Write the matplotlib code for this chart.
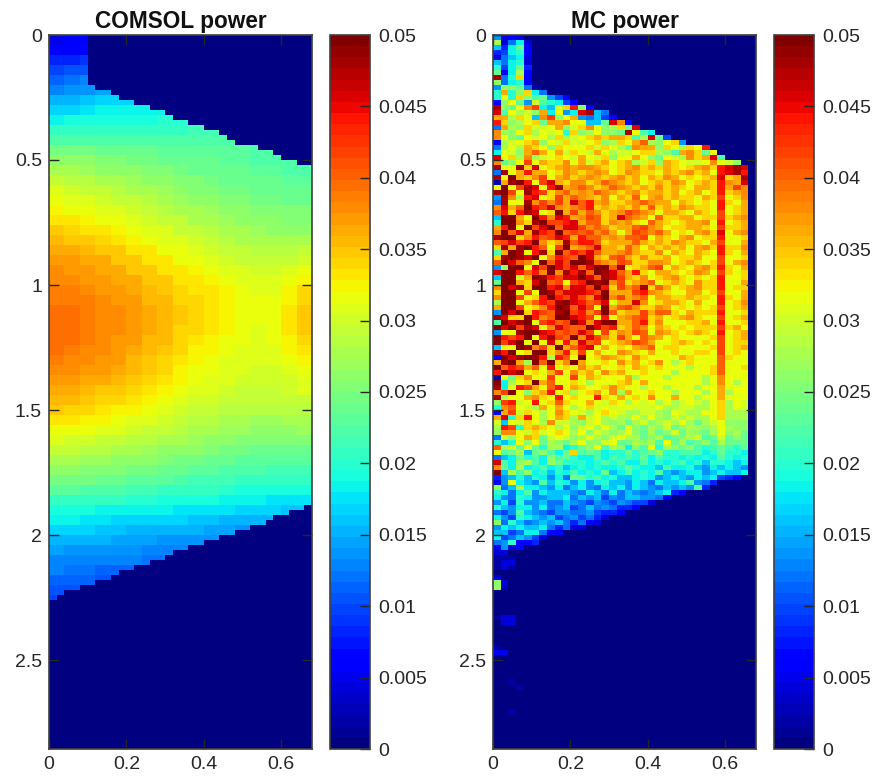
import numpy as np
import matplotlib
matplotlib.use("Agg")
import matplotlib.pyplot as plt

plt.rcParams['font.family'] = ['Liberation Sans', 'DejaVu Sans']

# COMSOL power, units 1e-4, cells 0.04 x 0.04
comsol_rows = [
    [50, 55, 60],
    [60, 62, 68],
    [85, 85, 90],
    [100, 105, 105],
    [115, 120, 125, 125],
    [130, 135, 140, 145, 150, 155],
    [150, 155, 160, 165, 165, 170, 170],
    [170, 170, 175, 180, 180, 180, 185, 185],
    [185, 190, 190, 195, 195, 195, 195, 200, 200, 200],
    [205, 210, 210, 210, 210, 210, 210, 210, 210, 215, 215],
    [225, 225, 225, 225, 225, 225, 225, 225, 225, 225, 225, 225],
    [245, 245, 245, 240, 240, 235, 235, 230, 230, 230, 230, 230, 230, 225, 225],
    [260, 260, 260, 255, 250, 245, 245, 240, 240, 235, 235, 230, 230, 225, 225, 225, 225],
    [275, 275, 270, 265, 265, 260, 255, 250, 245, 240, 240, 235, 235, 230, 230, 225, 225],
    [290, 285, 285, 280, 275, 270, 265, 260, 255, 250, 245, 240, 240, 235, 235, 230, 230],
    [305, 300, 295, 290, 285, 280, 275, 270, 260, 255, 250, 245, 245, 240, 240, 235, 235],
    [315, 310, 305, 300, 295, 290, 285, 280, 270, 265, 260, 255, 250, 245, 245, 240, 240],
    [325, 320, 315, 310, 305, 300, 295, 285, 280, 275, 270, 265, 260, 255, 250, 250, 250],
    [335, 330, 325, 320, 315, 310, 300, 295, 290, 280, 275, 270, 265, 265, 260, 255, 255],
    [345, 340, 335, 330, 325, 320, 310, 305, 295, 290, 285, 280, 275, 270, 265, 265, 265],
    [355, 350, 345, 340, 335, 325, 320, 310, 305, 300, 290, 285, 280, 280, 275, 275, 275],
    [365, 360, 355, 350, 345, 335, 330, 320, 315, 305, 300, 295, 290, 285, 285, 285, 290],
    [370, 370, 365, 360, 350, 345, 335, 330, 320, 315, 310, 300, 295, 295, 290, 295, 300],
    [378, 375, 370, 365, 360, 350, 345, 335, 330, 325, 315, 310, 305, 300, 300, 305, 315],
    [382, 380, 375, 370, 365, 360, 350, 345, 335, 330, 325, 315, 310, 308, 308, 315, 328],
    [385, 385, 380, 375, 370, 365, 355, 350, 340, 335, 330, 322, 315, 312, 312, 322, 338],
    [390, 390, 385, 380, 375, 368, 358, 352, 342, 338, 332, 325, 318, 315, 315, 328, 342],
    [395, 392, 388, 382, 378, 368, 362, 352, 345, 338, 332, 325, 320, 315, 315, 330, 345],
    [395, 395, 388, 382, 378, 368, 362, 352, 345, 338, 332, 325, 318, 314, 315, 330, 350],
    [395, 395, 388, 382, 378, 368, 362, 352, 342, 338, 332, 322, 315, 312, 315, 330, 345],
    [395, 392, 388, 382, 372, 368, 358, 352, 342, 332, 328, 320, 315, 312, 314, 328, 342],
    [392, 388, 382, 378, 372, 362, 355, 348, 338, 328, 322, 318, 312, 308, 312, 322, 335],
    [388, 382, 378, 372, 368, 358, 350, 342, 332, 325, 318, 312, 308, 305, 308, 318, 328],
    [380, 378, 372, 368, 360, 352, 345, 338, 328, 320, 315, 308, 305, 302, 304, 310, 318],
    [372, 370, 365, 360, 355, 345, 340, 330, 325, 315, 310, 305, 300, 298, 298, 304, 310],
    [362, 360, 355, 350, 345, 338, 332, 325, 318, 310, 305, 300, 295, 295, 295, 300, 305],
    [352, 352, 348, 342, 338, 330, 325, 318, 310, 302, 298, 292, 290, 290, 290, 292, 296],
    [345, 342, 338, 332, 328, 322, 316, 308, 302, 296, 290, 286, 285, 282, 282, 286, 288],
    [330, 330, 328, 322, 318, 312, 308, 302, 294, 288, 282, 278, 276, 272, 272, 276, 278],
    [320, 316, 314, 310, 305, 300, 295, 290, 284, 278, 274, 268, 266, 262, 262, 264, 268],
    [306, 302, 300, 296, 294, 288, 284, 278, 274, 268, 264, 258, 256, 252, 252, 252, 256],
    [292, 290, 285, 282, 280, 275, 270, 265, 260, 258, 252, 248, 243, 242, 242, 242, 242],
    [277, 275, 270, 270, 265, 260, 258, 254, 248, 244, 242, 238, 232, 232, 232, 232, 232],
    [262, 260, 255, 255, 250, 248, 244, 240, 238, 232, 228, 224, 222, 222, 218, 218, 216],
    [245, 245, 245, 240, 238, 234, 230, 228, 224, 218, 216, 212, 210, 206, 206, 206, 204],
    [228, 228, 226, 222, 222, 216, 216, 210, 210, 205, 205, 198, 194, 194, 194, 192, 188],
    [210, 210, 210, 205, 205, 200, 198, 194, 194, 188, 188, 182, 182, 182, 176, 176, 172],
    [192, 192, 192, 187, 187, 182, 182, 182, 177, 177, 172, 172, 166, 166, 165, 160, 160],
    [180, 180, 175, 175, 170, 170, 170, 165, 165, 160, 160, 155, 155, 150, 150, 150],
    [165, 165, 165, 160, 160, 155, 155, 155, 150, 150, 145, 145, 140, 140],
    [155, 155, 150, 150, 145, 145, 145, 140, 140, 140, 135, 135],
    [145, 140, 140, 140, 135, 135, 130, 130, 130, 130],
    [130, 130, 130, 125, 125, 125, 120, 120],
    [125, 120, 120, 115, 115, 110, 110],
    [115, 110, 110, 105, 105, 105],
    [105, 105, 100, 95],
    [100, 95],
]

# where the COMSOL domain starts and stops, per 0.02 wide column
comsol_top = [0, 0, 0, 0, 0, .20, .22, .22, .24, .26, .26, .28, .28, .30, .30, .32, .34,
              .34, .36, .36, .38, .38, .40, .42, .42, .44, .44, .46, .46, .48, .50, .50, .52, .52]
comsol_bottom = [2.26, 2.24, 2.22, 2.22, 2.20, 2.20, 2.18, 2.18, 2.16, 2.14, 2.14, 2.12,
                 2.12, 2.10, 2.10, 2.08, 2.06, 2.06, 2.04, 2.04, 2.02, 2.02, 2.00, 2.00,
                 1.98, 1.98, 1.96, 1.96, 1.94, 1.92, 1.92, 1.90, 1.90, 1.88]

# MC power, one letter per 0.02 x 0.02 cell: a = 0, b = 0.002 ... z = 0.05
mc_rows = [
    "hcdc", "ocgjc", "iejmd", "efjkd", "cgijc", "igjkc", "kfjme", "mdjod", "ygkrd", "ngjkd",
    "hnnmgb",
    "ksknrjg",
    "kqkrn lmhfd",
    "dnqmh plkjf d",
    "ynmqt vjipr wnd",
    "xlqop nsjqh jxyig",
    "ssorq itvnq shgif d",
    "wrnoq rmsst qqiim xtd",
    "gsonr ppqsn prtqn ormx",
    "tonqr oqpqk rnoqn nmyql j",
    "tqnmq pqoro pqrsr ssrlo xmf",
    "dopqr snqpr ppqrn orqsu onqrh",
    "goqos rqnrq qqrpr qomts snrqo rqw",
    "jqpns usqsp rqpsq oppqr ronls trmq",
    "xqrot opqrq psqpr nqqsq nmqpo trsxl",
    "tmnqv qsrrt qsprs qrsop rnsrq ppqtq pn",
    "yqqyr xqrst sttsr qrstr srsrq rstrw xyx",
    "gyqsw ssqrt srsts qrtsr rqsrs trsqw xyw",
    "yqzsr tvqst rstsr strsq srtsq rqrsx rsy",
    "bsyzw qvxsr ttrsu tsrsq rsrts qrsrw tsx",
    "qzqvy xqwys tutrs utsrs rtrsr qssrw svt",
    "yzvqy wvrtu stsut srstr ssrsq rsqrw rst",
    "hytow xqrvs utsrt qsruq strsr rqsrv qrt",
    "gyqqy tvtvs xuwst rrstu tssqs rqrqw rqs",
    "txsuz wvxts tuwrs rsrtr ursrt srrqw qrs",
    "uwrwy xqrzs vsutr stvut sqssr qsrqv qrs",
    "izzsq zwtxw stvur sxuts qurrs sqrrv rst",
    "kzztr yzvvw xsuur tstrq usrqr sstqw qrs",
    "swzqz vxzux xvtut rssuv tsqrr ssrqv rrs",
    "tzuxs ywvzu vuvtu sqsvu tusqr qstrx qst",
    "yzzrt wuvxw swuus tsuuv qsrqs tqrrw qqr",
    "uvxvw ztrsy uwwur sssus rsrts rrqsv qqs",
    "rysyz wuqvz stuxs srusq srsrs qstrw rrt",
    "lszyq wyrzu wvxus stusr rtqsr qsrqw rqs",
    "ryzyx zqtwv uzxsr uvsrt rrsqr rsqqv qqr",
    "uzxut qzuxv zzyut svurr ttsqr srqrv qst",
    "hnzzq xvzxv xuxzz uyqrs uvqsr qstrw rqs",
    "xzzwu wtzty wyuzy xuswr qssrq rtsqv rqr",
    "izzps zywvx xzxuy xvsrt qrstr qrqrw qqr",
    "mzzsr xzuvq vwzyz tvrst uqrsr qtrrw qqs",
    "tzxyr zzwxt xxvzw rvtuy rusqr strrw qrr",
    "rzzqv qzyvx xxwvz sssvw tsrqq ssqrv qqs",
    "tzzvq rwzwv xvtxz tvstu qssrr srrqw rqs",
    "ozzqs uwvyz xwuvx qssxt qrssr qsqqw qrt",
    "szzvq rtwzy uxvqz suvtr rtsqr qrqrv qrs",
    "hzxzr wvuyz vwtvz urssv suurq srrrw qqr",
    "yxrrz wtuzz xwvqw qstuv rsqrs trqqv qrs",
    "lzxyz qvwuv zxtxz zssuw rtqqq rrsqw qqr",
    "zxzvy xqtxv uuzxv wrsut qsrqr qrrrv rsq",
    "hqqyz zxwuv uxvqv rtsvu qtsrq rsrqw qrs",
    "zwvwz qwyvu ztxvt rvsqu tsqrq qqqrv qrs",
    "zvxzq zqxrw sxuvq rstvu sqqrs rqrqv qrr",
    "iqqzy tvrzs uwxqs qrqst uqrrq qqqrv qrs",
    "ywzqr zzrtw rvqsq qtsrq sqqrq qrrqv qrq",
    "dzxyz ywowu qzqrt srqtr qqqqs rqqqu rqq",
    "syzso zuzrt zsqqr qtrsq rtqoq rqqqu qqq",
    "zuwvs uqwqr qtrsq qrqsr qrqqq oqqru qqr",
    "wzxyq rqsvq trsqt rsqqr qqqoq qqqru qqq",
    "bqmrt qqvqq vqsrq qqsoq qqoqq qqoqt qqq",
    "zjoqr zsuqq rqoqq qrsqs qqqqq qqoqt qoq",
    "yjqwv squwq srqqr trqqo qqoqq qoqqs qqq",
    "tvzqn rswqr oqrsq tosqq rqqoq qqoqs oqq",
    "yoqqs trqwq rqqwr qsqrq tqqsq qoqqs qqq",
    "nvwpq wqrur qqsqp rqoqp qoqop qpoqr oqp",
    "ktuqp osqsq oqrpq pqqpp pqoop pooqr oqp",
    "dsvpr qoqtr qpoqr qpoop ponqp ooqqr ooo",
    "sxkrw qoqsr ospqo pooqo qonpo pooqr ooo",
    "piqpr qotpp onpqo nomop nopoq omopq nnn",
    "owvkr srqoq npqoq omqnm onpmn oonoq onn",
    "nttqp rpqrq oqnpo noqnm omnpm onmoq nom",
    "gpnqs rmpqp noqon pqoom nolmn oplmp mnm",
    "kikqn qmonm oqnnp qmmon olqmo lmnlo mmm",
    "uopmq mkooj kmnql onjnl qkonm nlklm lkm",
    "qlmoi mnljm rlmlj kkmkl mnkkl lljkm kkj",
    "gijmk ljnlm kjjlj lklkm jlkkj kjkjl kjk",
    "xljno ljnmk kkjkl kljjl jkjkl jkikk jij",
    "tmjoj kljki jkjkj jkmkj jiljj kihji jih",
    "zioln jkikj ljkjm ijljk jlihi jjhij iij",
    "ehiki kjhjg mmklj kiijk jhiji hjijf ed",
    "dhqji hlikj hjhjk iihji gjiij lhge",
    "ngioj jihjg ijhgj ijhji hgihi hle",
    "kjgjl hjiii hgjig jgihg hijed",
    "jhgkj hhiij gihif hgiih hgd",
    "hjfkh higgi hgfhg fhgff c",
    "kihjj hjghi fgigh geed",
    "gfhli hgfhh gghfe ed",
    "jhfkj ihifg hfgec",
    "ngkig hihig egdc",
    "hjiji ijgeg cc",
    "iifgj jgdd",
    "jfgih fc",
    "ghkdd e",
    "dhcd",
    "cc",
    "bbb", "bcc", "bcb",
]

# faint cells below the main body, read one by one
mc_spot_row = [108, 109, 110, 109, 110, 116, 116, 116, 117, 117, 122, 123, 123, 129, 130, 135]
mc_spot_col = [0, 0, 0, 1, 1, 0, 1, 2, 1, 2, 0, 0, 1, 2, 3, 2]
mc_spot_val = [.004, .026, .026, .004, .003, .002, .004, .004, .004, .004, .002, .005, .005, .002, .002, .002]

x_ticks = [0, 0.2, 0.4, 0.6]
y_ticks = [0, 0.5, 1, 1.5, 2, 2.5]
cbar_ticks = [0, 0.005, 0.01, 0.015, 0.02, 0.025, 0.03, 0.035, 0.04, 0.045, 0.05]
cbar_labels = ['0', '0.005', '0.01', '0.015', '0.02', '0.025', '0.03', '0.035', '0.04', '0.045', '0.05']

n_x, n_y = 34, 143
x_edges = np.arange(n_x + 1) * 0.02
y_edges = np.arange(n_y + 1) * 0.02

# comsol grid, each read cell covers 2 x 2 plot cells
comsol = np.zeros((n_y, n_x))
for i, row in enumerate(comsol_rows):
    for j, v in enumerate(row):
        comsol[2*i:2*i+2, 2*j:2*j+2] = v * 1e-4
y_mid = y_edges[:-1] + 0.01
for j in range(n_x):
    comsol[(y_mid < comsol_top[j]) | (y_mid > comsol_bottom[j]), j] = 0

mc = np.zeros((n_y, n_x))
for i, row in enumerate(mc_rows):
    row = row.replace(' ', '')[:n_x]
    for j, c in enumerate(row):
        mc[i, j] = (ord(c) - ord('a')) * 0.002
for r, c, v in zip(mc_spot_row, mc_spot_col, mc_spot_val):
    mc[r, c] = v

fig = plt.figure(figsize=(8.72, 7.8), dpi=100)
W, H = 872.0, 780.0
dark = '#262626'


def make_panel(data, title, left, cbar_left):
    ax = fig.add_axes([left/W, 1 - 749/H, 263/W, 714/H])
    mesh = ax.pcolormesh(x_edges, y_edges, data, cmap=plt.get_cmap('jet', 64), vmin=0, vmax=0.05)
    ax.set_xlim(0, 0.68)
    ax.set_ylim(2.856, 0)
    ax.set_xticks(x_ticks, ['0', '0.2', '0.4', '0.6'])
    ax.set_yticks(y_ticks, ['0', '0.5', '1', '1.5', '2', '2.5'])
    ax.tick_params(direction='in', top=True, right=True, length=7, width=1, color=dark,
                   labelsize=14, labelcolor=dark, pad=5)
    for s in ax.spines.values():
        s.set_color('#404040')
        s.set_linewidth(1.2)
    ax.set_title(title, fontsize=16.3, fontweight='bold', color='#111111', pad=5)

    cax = fig.add_axes([cbar_left/W, 1 - 749/H, 40/W, 714/H])
    cb = fig.colorbar(mesh, cax=cax)
    cb.set_ticks(cbar_ticks, labels=cbar_labels)
    cb.ax.tick_params(direction='in', length=7, width=1, color=dark, labelsize=14,
                      labelcolor=dark, pad=6)
    cb.outline.set_edgecolor('#404040')
    cb.outline.set_linewidth(1.2)


make_panel(comsol, 'COMSOL power', 49, 330)
make_panel(mc, 'MC power', 493, 774)

fig.savefig('out.png', dpi=100)
